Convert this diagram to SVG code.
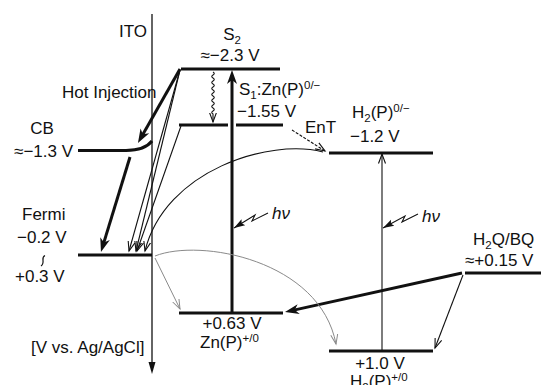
<svg xmlns="http://www.w3.org/2000/svg" width="541" height="385" viewBox="0 0 541 385">
<style>
text{font-family:"Liberation Sans",Arial,sans-serif;font-size:17px;fill:#111}
.lvl{stroke:#111;stroke-width:3;fill:none}
.thick{stroke:#111;stroke-width:3;fill:none}
.thin{stroke:#111;stroke-width:1.1;fill:none}
.gray{stroke:#8a8a8a;stroke-width:1;fill:none}
.it{font-style:italic}
.sm{font-size:11.5px}
</style>
<defs>
<marker id="hk" markerUnits="userSpaceOnUse" markerWidth="16" markerHeight="12" viewBox="0 -6 16 12" refX="5" refY="0" orient="auto"><path d="M0,-5 L14,0 L0,5 L4,0 z" fill="#111"/></marker>
<marker id="hn" markerUnits="userSpaceOnUse" markerWidth="12" markerHeight="10" viewBox="0 -5 12 10" refX="9.5" refY="0" orient="auto"><path d="M0,-3.5 L9.5,0 L0,3.5" fill="none" stroke="#111" stroke-width="1.1"/></marker>
<marker id="hg" markerUnits="userSpaceOnUse" markerWidth="12" markerHeight="10" viewBox="0 -5 12 10" refX="9.5" refY="0" orient="auto"><path d="M0,-3.5 L9.5,0 L0,3.5" fill="none" stroke="#8a8a8a" stroke-width="1"/></marker>
<marker id="hi" markerUnits="userSpaceOnUse" markerWidth="12" markerHeight="10" viewBox="0 -5 12 10" refX="11" refY="0" orient="auto"><path d="M0,-3.5 L11,0 L0,3.5 L2,0 z" fill="#111"/></marker>
</defs>

<g id="ito">
<line x1="152" y1="14" x2="152" y2="364" stroke="#111" stroke-width="1.3"/>
<path d="M148.5,362 L152,374 L155.5,362 z" fill="#111"/>
<text x="147" y="37" text-anchor="end">ITO</text>
<text x="31" y="353">[V vs. Ag/AgCl]</text>
</g>

<g id="s2">
<line class="lvl" x1="181" y1="69" x2="280" y2="69"/>
<text x="232" y="40" text-anchor="middle">S<tspan class="sm" dy="3.5">2</tspan></text>
<text x="230" y="61" text-anchor="middle">≈−2.3 V</text>
</g>

<g id="s1">
<line class="lvl" x1="179" y1="125" x2="228" y2="125"/>
<line class="lvl" x1="236" y1="125" x2="283" y2="125"/>
<text x="239" y="95">S<tspan class="sm" dy="3.5">1</tspan><tspan dy="-3.5">:Zn(P)</tspan><tspan class="sm" dy="-6.5">0/−</tspan></text>
<text x="237" y="117">−1.55 V</text>
</g>

<g id="cb">
<path class="lvl" d="M78,150.5 L126,150.5 C139,150.3 147,147.5 152,141"/>
<text x="42" y="134" text-anchor="middle">CB</text>
<text x="73" y="157" text-anchor="end">≈−1.3 V</text>
<text x="62" y="98">Hot Injection</text>
</g>

<g id="fermi">
<line class="lvl" x1="78" y1="255" x2="152" y2="255"/>
<text x="22" y="220">Fermi</text>
<text x="17" y="243">−0.2 V</text>
<path d="M45,255.5 C40,257.5 46,262.5 41,266" stroke="#111" stroke-width="1.2" fill="none"/>
<text x="15" y="282">+0.3 V</text>
</g>

<g id="znp">
<line class="lvl" x1="179" y1="313" x2="283" y2="313"/>
<text x="232" y="329" text-anchor="middle">+0.63 V</text>
<text x="200" y="348">Zn(P)<tspan class="sm" dy="-6.5">+/0</tspan></text>
</g>

<g id="h2p-anion">
<line class="lvl" x1="329" y1="153" x2="433" y2="153"/>
<text x="352" y="118">H<tspan class="sm" dy="3.5">2</tspan><tspan dy="-3.5">(P)</tspan><tspan class="sm" dy="-6.5">0/−</tspan></text>
<text x="350" y="142">−1.2 V</text>
<text x="305" y="133">EnT</text>
</g>

<g id="h2p-cation">
<line class="lvl" x1="329" y1="351" x2="433" y2="351"/>
<text x="380" y="369" text-anchor="middle">+1.0 V</text>
<text x="350" y="387">H<tspan class="sm" dy="3.5">2</tspan><tspan dy="-3.5">(P)</tspan><tspan class="sm" dy="-6.5">+/0</tspan></text>
</g>

<g id="h2q">
<line class="lvl" x1="465" y1="273" x2="541" y2="273"/>
<text x="473" y="245">H<tspan class="sm" dy="3.5">2</tspan><tspan dy="-3.5">Q/BQ</tspan></text>
<text x="465" y="266">≈+0.15 V</text>
</g>

<g id="connectors">
<line class="thick" x1="180" y1="69" x2="142.4" y2="135.2" marker-end="url(#hk)"/>
<line class="thick" x1="130" y1="157" x2="103.6" y2="243.4" marker-end="url(#hk)"/>
<line class="thick" x1="232" y1="313" x2="232" y2="79" marker-end="url(#hk)"/>
<line class="thick" x1="462" y1="273" x2="293.8" y2="310.1" marker-end="url(#hk)"/>
<line class="thin" x1="180" y1="70" x2="129" y2="251" marker-end="url(#hn)"/>
<line class="thin" x1="180" y1="70" x2="136" y2="251" marker-end="url(#hn)"/>
<line class="thin" x1="181" y1="126" x2="137" y2="251" marker-end="url(#hn)"/>
<path class="thin" d="M323,152 C270,138 165,170 145,251" marker-end="url(#hn)"/>
<line class="thin" x1="292" y1="130" x2="325" y2="151" stroke-dasharray="3,1.5" marker-end="url(#hn)"/>
<path class="thin" d="M213,72 q2.5,1.5 0,3 q-2.5,1.5 0,3 q2.5,1.5 0,3 q-2.5,1.5 0,3 q2.5,1.5 0,3 q-2.5,1.5 0,3 q2.5,1.5 0,3 q-2.5,1.5 0,3 q2.5,1.5 0,3 q-2.5,1.5 0,3 q2.5,1.5 0,3 q-2.5,1.5 0,3 q2.5,1.5 0,3 q-2.5,1.5 0,3 l0,8" marker-end="url(#hn)"/>
<line class="thin" x1="382" y1="350" x2="382" y2="154" marker-end="url(#hn)"/>
<line class="thin" x1="463" y1="275" x2="435" y2="348" marker-end="url(#hn)"/>
<line class="gray" x1="155" y1="258" x2="180" y2="309" marker-end="url(#hg)"/>
<path class="gray" d="M155,256 C200,238 320,260 336,344" marker-end="url(#hg)"/>
<path class="thin" d="M268,213 L252,221 L255,215 L234,228" marker-end="url(#hi)"/>
<path class="thin" d="M418,214 L402,222 L405,216 L383,228" marker-end="url(#hi)"/>
<text class="it" x="272" y="219">hν</text>
<text class="it" x="422" y="222">hν</text>
</g>
</svg>
